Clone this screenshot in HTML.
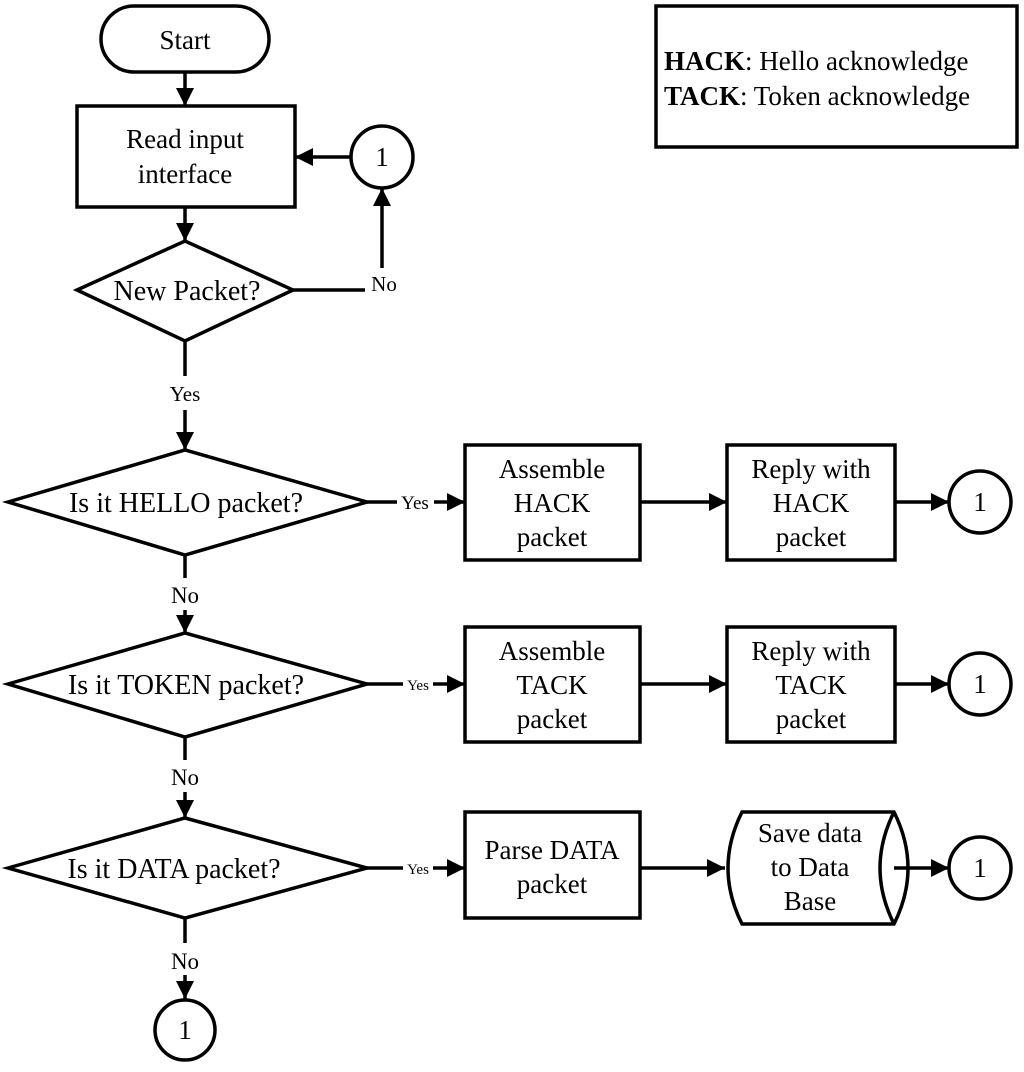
<!DOCTYPE html>
<html><head><style>body{margin:0;background:#fff}</style></head><body>
<svg width="1024" height="1067" viewBox="0 0 1024 1067" xmlns="http://www.w3.org/2000/svg" font-family="Liberation Serif, serif" font-size="27" fill="none" stroke="#000" stroke-width="3.5">
<defs>
<marker id="b" viewBox="0 0 10 10" markerWidth="18" markerHeight="18" refX="10" refY="5" orient="auto" markerUnits="userSpaceOnUse"><path d="M0,0 L10,5 L0,10z" fill="#000" stroke="none"/></marker></defs>
<rect x="656" y="6" width="361" height="141"/>
<g fill="#000" stroke="none" font-size="27">
<text x="664" y="70"><tspan font-weight="bold">HACK</tspan>: Hello acknowledge</text>
<text x="664" y="105"><tspan font-weight="bold">TACK</tspan>: Token acknowledge</text>
</g>
<rect x="101" y="6" width="168" height="66" rx="33"/>
<rect x="77" y="106" width="218" height="101"/>
<circle cx="382" cy="157" r="31"/>
<polygon points="77,290 185,241 293,290 185,341"/>
<line x1="185" y1="72" x2="185" y2="106" marker-end="url(#b)"/>
<line x1="185" y1="207" x2="185" y2="241" marker-end="url(#b)"/>
<line x1="351" y1="157" x2="295" y2="157" marker-end="url(#b)"/>
<polyline points="293,290 365,290"/>
<line x1="382" y1="268" x2="382" y2="188" marker-end="url(#b)"/>
<line x1="185" y1="341" x2="185" y2="376"/>
<line x1="185" y1="410" x2="185" y2="450" marker-end="url(#b)"/>
<polygon points="8,502 185,450 367,502 185,555"/>
<line x1="367" y1="502" x2="397" y2="502"/>
<line x1="434" y1="502" x2="465" y2="502" marker-end="url(#b)"/>
<rect x="465" y="445" width="175" height="115"/>
<line x1="640" y1="502" x2="727" y2="502" marker-end="url(#b)"/>
<rect x="727" y="445" width="168" height="115"/>
<line x1="895" y1="502" x2="949" y2="502" marker-end="url(#b)"/>
<circle cx="980" cy="502" r="31"/>
<line x1="185" y1="555" x2="185" y2="578"/>
<line x1="185" y1="610" x2="185" y2="633" marker-end="url(#b)"/>
<polygon points="8,684 185,633 367,684 185,737"/>
<line x1="367" y1="684" x2="403" y2="684"/>
<line x1="433" y1="684" x2="465" y2="684" marker-end="url(#b)"/>
<rect x="465" y="627" width="175" height="115"/>
<line x1="640" y1="684" x2="727" y2="684" marker-end="url(#b)"/>
<rect x="727" y="627" width="168" height="115"/>
<line x1="895" y1="684" x2="949" y2="684" marker-end="url(#b)"/>
<circle cx="980" cy="684" r="31"/>
<line x1="185" y1="737" x2="185" y2="760"/>
<line x1="185" y1="792" x2="185" y2="818" marker-end="url(#b)"/>
<polygon points="8,868 185,818 367,868 185,918"/>
<line x1="367" y1="868" x2="403" y2="868"/>
<line x1="433" y1="868" x2="465" y2="868" marker-end="url(#b)"/>
<rect x="465" y="812" width="175" height="106"/>
<line x1="640" y1="868" x2="725" y2="868" marker-end="url(#b)"/>
<path d="M742,812 L894,812 Q922,868 894,924 L742,924 Q714,868 742,812 Z"/>
<path d="M894,812 Q866,868 894,924"/>
<line x1="894" y1="868" x2="949" y2="868" marker-end="url(#b)"/>
<circle cx="980" cy="868" r="31"/>
<line x1="185" y1="918" x2="185" y2="943"/>
<line x1="185" y1="975" x2="185" y2="999" marker-end="url(#b)"/>
<circle cx="185" cy="1030" r="30"/>
<g fill="#000" stroke="none" text-anchor="middle">
<text x="185" y="49">Start</text>
<text x="185" y="148">Read input</text><text x="185" y="183">interface</text>
<text x="382" y="166">1</text>
<text x="187" y="300" font-size="28">New Packet?</text>
<text x="384" y="291" font-size="21">No</text>
<text x="185" y="401" font-size="21">Yes</text>
<text x="186" y="512" font-size="28">Is it HELLO packet?</text>
<text x="415" y="509" font-size="19">Yes</text>
<text x="552" y="478">Assemble</text><text x="552" y="512">HACK</text><text x="552" y="546">packet</text>
<text x="811" y="478">Reply with</text><text x="811" y="512">HACK</text><text x="811" y="546">packet</text>
<text x="980" y="511">1</text>
<text x="185" y="603" font-size="23">No</text>
<text x="186" y="694" font-size="28">Is it TOKEN packet?</text>
<text x="418" y="690" font-size="15">Yes</text>
<text x="552" y="660">Assemble</text><text x="552" y="694">TACK</text><text x="552" y="728">packet</text>
<text x="811" y="660">Reply with</text><text x="811" y="694">TACK</text><text x="811" y="728">packet</text>
<text x="980" y="693">1</text>
<text x="185" y="785" font-size="23">No</text>
<text x="174" y="878" font-size="28">Is it DATA packet?</text>
<text x="418" y="874" font-size="15">Yes</text>
<text x="552" y="859">Parse DATA</text><text x="552" y="893">packet</text>
<text x="810" y="842">Save data</text><text x="810" y="876">to Data</text><text x="810" y="910">Base</text>
<text x="980" y="877">1</text>
<text x="185" y="969" font-size="23">No</text>
<text x="185" y="1039">1</text>
</g>
</svg>
</body></html>
